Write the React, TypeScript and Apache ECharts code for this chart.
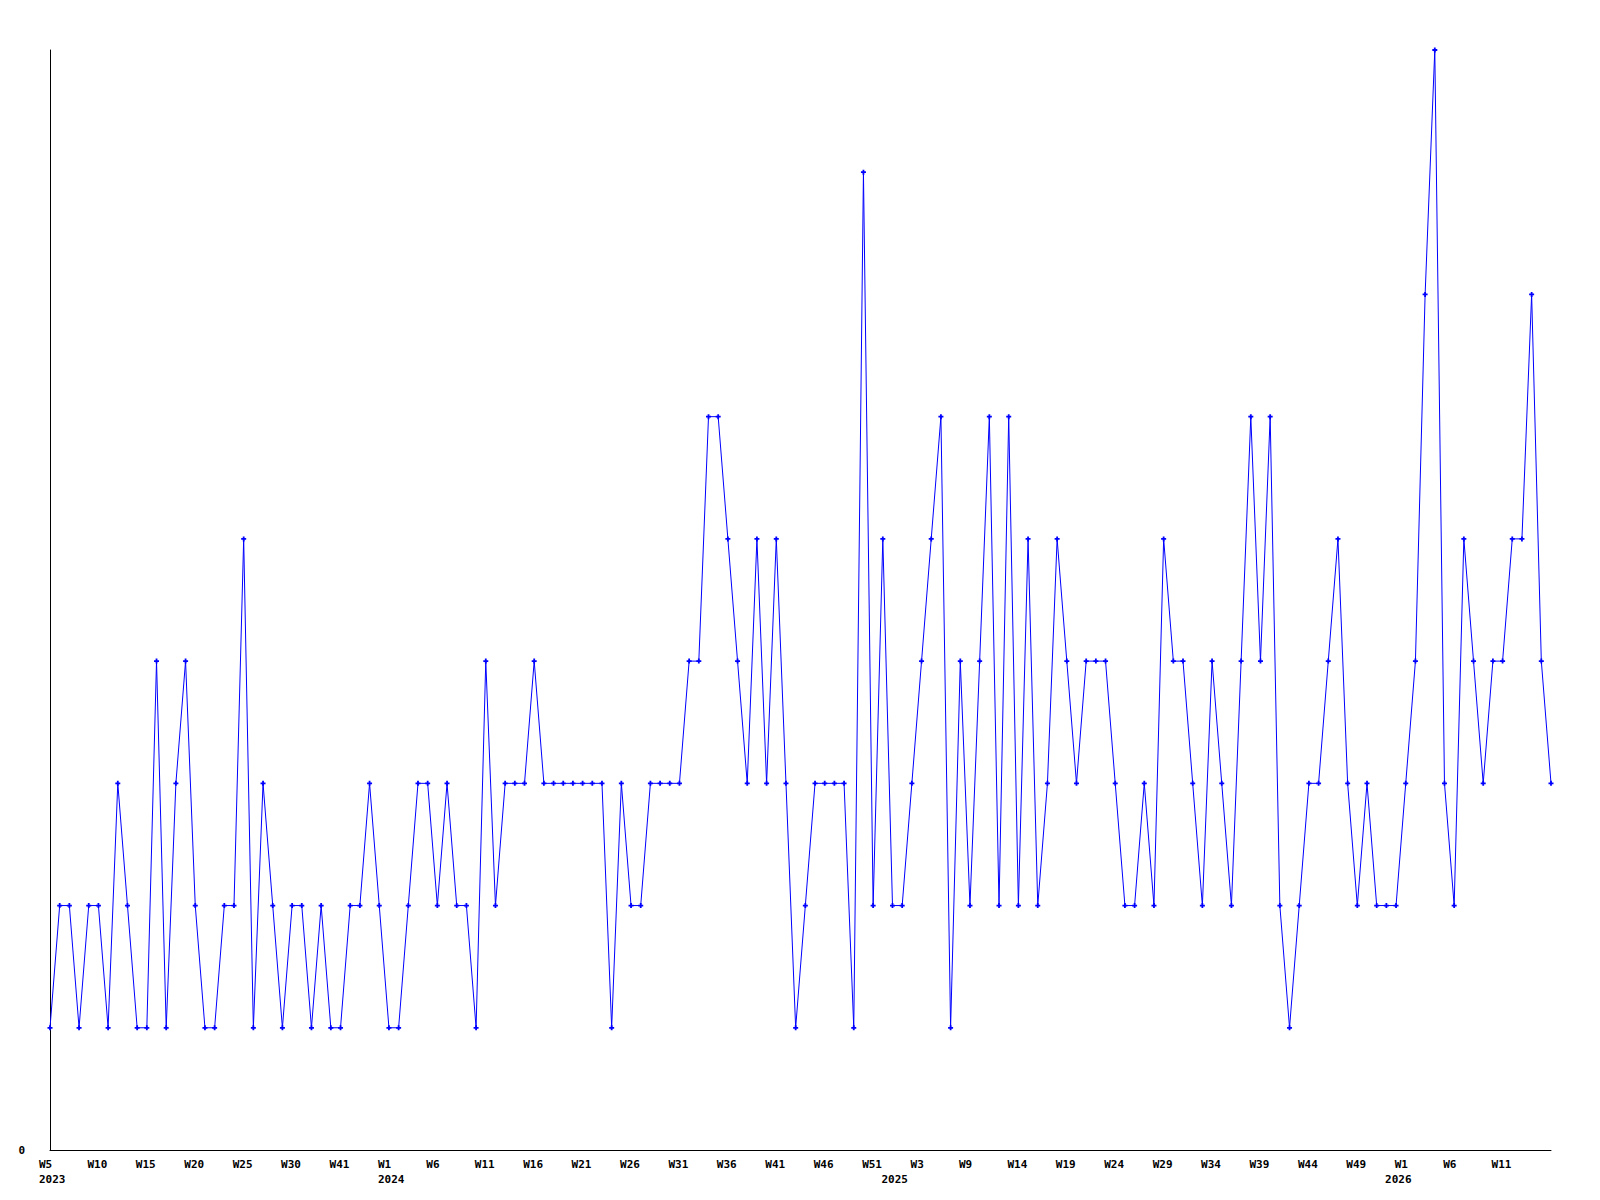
import React, { useEffect, useRef } from "react";
import * as echarts from "echarts";

// Week numbers present in the data, per year (strftime %W style numbering)
const weeks2023 = [5, 6, 7, 8, 9, 10, 11, 12, 13, 14, 15, 16, 17, 18, 19, 20, 21, 22, 23, 24, 25, 26, 27, 28, 29, 30, 32, 34, 37, 39, 41, 43, 46, 49, 51];
const weeks2024 = [1, 2, 3, 4, 5, 6, 7, 8, 9, 10, 11, 12, 13, 14, 15, 16, 17, 18, 19, 20, 21, 22, 23, 24, 25, 26, 27, 28, 29, 30, 31, 32, 33, 34, 35, 36, 37, 38, 39, 40, 41, 42, 43, 44, 45, 46, 47, 48, 49, 50, 51, 52];
const weeks2025 = [0, 1, 2, 3, 4, 5, 7, 8, 9, 10, 11, 12, 13, 14, 15, 16, 17, 18, 19, 20, 21, 22, 23, 24, 25, 26, 27, 28, 29, 30, 31, 32, 33, 34, 35, 36, 37, 38, 39, 40, 41, 42, 43, 44, 45, 46, 47, 48, 49, 50, 51, 52];
const weeks2026 = [0, 1, 2, 3, 4, 5, 6, 7, 8, 9, 10, 11, 12, 13, 14, 15, 16];

const years = [2023, 2024, 2025, 2026];
const weeksByYear = [weeks2023, weeks2024, weeks2025, weeks2026];

// Weekly counts
const counts = [
  1, 2, 2, 1, 2, 2, 1, 3, 2, 1, 1, 4, 1, 3, 4, 2, 1, 1, 2, 2, 5, 1, 3, 2, 1, 2, 2, 1,
  2, 1, 1, 2, 2, 3, 2, 1, 1, 2, 3, 3, 2, 3, 2, 2, 1, 4, 2, 3, 3, 3, 4, 3, 3, 3,
  3, 3, 3, 3, 1, 3, 2, 2, 3, 3, 3, 3, 4, 4, 6, 6, 5, 4, 3, 5, 3, 5, 3, 1, 2, 3, 3,
  3, 3, 1, 8, 2, 5, 2, 2, 3, 4, 5, 6, 1, 4, 2, 4, 6, 2, 6, 2, 5, 2, 3, 5, 4, 3, 4,
  4, 4, 3, 2, 2, 3, 2, 5, 4, 4, 3, 2, 4, 3, 2, 4, 6, 4, 6, 2, 1, 2, 3, 3, 4, 5, 3,
  2, 3, 2, 2, 2, 3, 4, 7, 9, 3, 2, 5, 4, 3, 4, 4, 5, 5, 7, 4, 3,
];

const yMax = 9;
const labelEvery = 5;

export default function App() {
  const ref = useRef<HTMLDivElement>(null);

  useEffect(() => {
    if (!ref.current) return;
    const chart = echarts.init(ref.current, undefined, { renderer: "svg" });

    const categories: string[] = [];
    const yearStart: number[] = [];
    years.forEach((y, yi) => {
      yearStart.push(categories.length);
      weeksByYear[yi].forEach((w) => categories.push(`${y}-W${w}`));
    });
    const last = categories.length - 1;
    const showWeek = (i: number) => i % labelEvery === 0 && i < last;

    const font = {
      fontFamily: "'DejaVu Sans Mono', 'Liberation Mono', monospace",
      fontWeight: "bold" as const,
      fontSize: 11,
      color: "#000",
    };

    chart.setOption({
      animation: false,
      backgroundColor: "#fff",
      grid: { left: 50, top: 50, right: 49, bottom: 50, containLabel: false, outerBoundsMode: "none" },
      xAxis: {
        type: "category",
        data: categories,
        boundaryGap: false,
        axisLine: { show: true, lineStyle: { color: "#000", width: 1 } },
        axisTick: { show: false },
        splitLine: { show: false },
        axisLabel: {
          ...font,
          margin: 7,
          lineHeight: 15,
          align: "left",
          padding: [0, 0, 0, -11],
          hideOverlap: false,
          interval: (index: number) => showWeek(index) || yearStart.includes(index),
          formatter: (value: string, index: number) => {
            const [y, w] = value.split("-");
            const sy = yearStart.includes(index);
            return (showWeek(index) ? w : "") + (sy ? "\n" + y : "");
          },
        },
      },
      yAxis: {
        type: "value",
        min: 0,
        max: yMax,
        interval: yMax,
        axisLine: { show: true, lineStyle: { color: "#000", width: 1 } },
        axisTick: { show: false },
        splitLine: { show: false },
        axisLabel: {
          ...font,
          margin: 25,
          formatter: (v: number) => (v === 0 ? "0" : ""),
        },
      },
      series: [
        {
          type: "line",
          data: counts,
          lineStyle: { color: "#0000ff", width: 1 },
          itemStyle: { color: "#0000ff" },
          symbol: "path://M1.6,0H3.4V1.6H5V3.4H3.4V5H1.6V3.4H0V1.6H1.6Z",
          symbolSize: 5,
          showSymbol: true,
          showAllSymbol: true,
        },
      ],
    });

    return () => chart.dispose();
  }, []);

  return (
    <div
      ref={ref}
      style={{ position: "absolute", left: 0, top: 0, width: 1600, height: 1200, background: "#fff" }}
    />
  );
}
